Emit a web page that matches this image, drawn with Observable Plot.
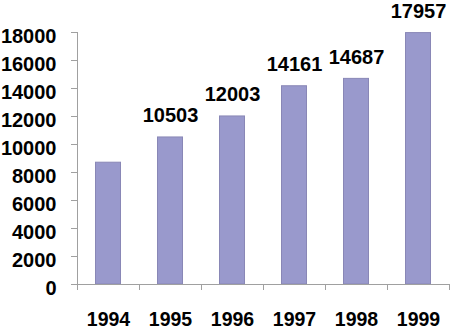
<!DOCTYPE html>
<html>
<head>
<meta charset="utf-8">
<script src="https://cdn.jsdelivr.net/npm/d3@7"></script>
<script src="https://cdn.jsdelivr.net/npm/@observablehq/plot@0.6"></script>
<style>
  html, body { margin: 0; padding: 0; background: #fff; }
  svg { display: block; }
</style>
</head>
<body>
<div id="chart"></div>
<script>
const years = ["1994", "1995", "1996", "1997", "1998", "1999"];
const values = [8700, 10503, 12003, 14161, 14687, 17957];
const labels = [null, "10503", "12003", "14161", "14687", "17957"];
const yTicks = [0, 2000, 4000, 6000, 8000, 10000, 12000, 14000, 16000, 18000];

const data = years.map((y, i) => ({year: y, value: values[i], label: labels[i]}));

const W = 450, H = 329;
const mLeft = 77, mRight = 1, mTop = 32, mBottom = 45;
const bw = (W - mLeft - mRight) / years.length;
const barW = 25;
const inset = (bw - barW) / 2;
const grey = "#a0a0a0";
const font = "Liberation Sans, Arial, sans-serif";

const chart = Plot.plot({
  width: W,
  height: H,
  marginLeft: mLeft,
  marginRight: mRight,
  marginTop: mTop,
  marginBottom: mBottom,
  style: {fontFamily: font, background: "#fff"},
  x: {domain: years, padding: 0, label: null},
  y: {domain: [0, 18000], label: null},
  marks: [
    Plot.barY(data, {x: "year", y: "value", fill: "#9999cc", stroke: "#8987b6", strokeWidth: 1, insetLeft: inset, insetRight: inset}),
    Plot.frame({anchor: "left", stroke: grey}),
    Plot.ruleY([0], {stroke: grey}),
    Plot.axisY({ticks: yTicks, tickSize: 6, tickFormat: () => "", stroke: grey, label: null}),
    Plot.axisY({ticks: yTicks, tickSize: 0, tickPadding: 21, dy: 4, tickFormat: d => String(d), fontSize: 20, fontWeight: "bold", fill: "#000", label: null}),
    Plot.axisX({tickSize: 6, dx: -bw / 2, tickFormat: () => "", stroke: grey, label: null}),
    Plot.axisX({tickSize: 6, dx: bw / 2, tickFormat: () => "", stroke: grey, label: null}),
    Plot.axisX({tickSize: 0, tickPadding: 28, fontSize: 19.5, fontWeight: "bold", fill: "#000", label: null}),
    Plot.text(data.filter(d => d.label), {x: "year", y: "value", text: "label", lineAnchor: "bottom", dy: -15, fontSize: 20, fontWeight: "bold", fill: "#000"})
  ]
});
document.getElementById("chart").appendChild(chart);
</script>
</body>
</html>
